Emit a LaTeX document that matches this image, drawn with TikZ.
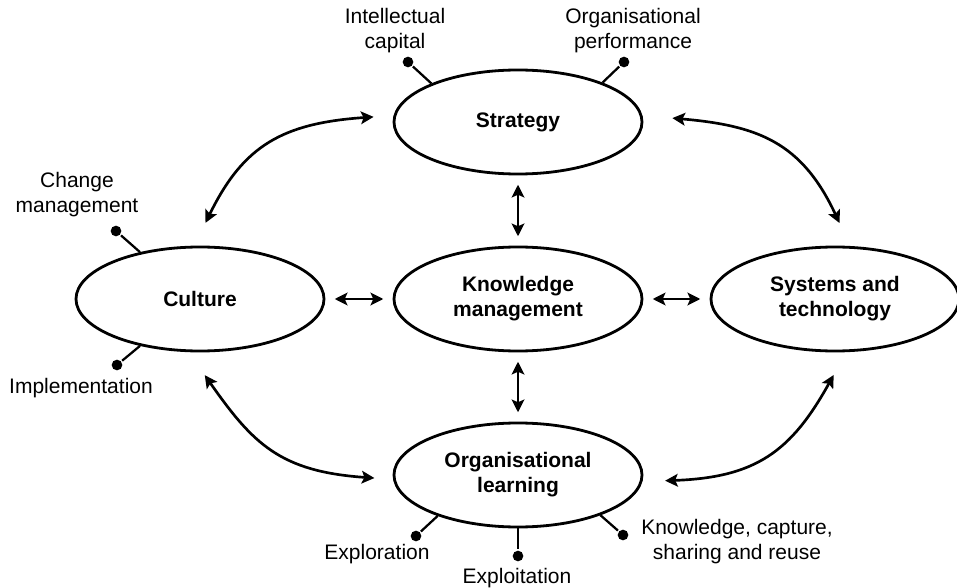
\documentclass[tikz,border=0pt]{standalone}
\usepackage{fontspec}
\setmainfont{Liberation Sans}
\usetikzlibrary{arrows.meta,shapes.geometric,positioning}

\begin{document}
\begin{tikzpicture}[x=0.75pt,y=-0.75pt,<->,>={Stealth[length=9.5pt,width=9.5pt,inset=2pt]},
  line width=2pt,on grid,
  main node/.style={ellipse,draw,line width=2.1pt,minimum width=186pt,minimum height=78pt,
    inner sep=0pt,align=center,font=\fontsize{15.75}{18.75}\selectfont\bfseries},
  pin dot/.style={circle,fill,inner sep=0pt,minimum size=8pt},
  tag/.style={align=center,font=\fontsize{15.75}{18.75}\selectfont},
  stem/.style={-,line width=1.7pt},
  link/.style={shorten <=7pt,shorten >=7pt}]

  \useasboundingbox (0,0) rectangle (957,588);

  \node[main node] (km) at (518,299) {Knowledge\\management};
  \node[main node] (cult) [left=238.5pt of km] {Culture};
  \node[main node] (syst) [right=237.75pt of km] {Systems and\\technology};
  \node[main node] (strat) [above=132.75pt of km] {Strategy};
  \node[main node] (ol) [below=132pt of km] {Organisational\\learning};

  % dots on the stems
  \node[pin dot] (icdot) at (408,62) {};
  \node[pin dot] (opdot) at (624,62) {};
  \node[pin dot] (cmdot) at (116,231) {};
  \node[pin dot] (imdot) at (117,365) {};
  \node[pin dot] (erdot) at (416,536) {};
  \node[pin dot] (eidot) at (518,556) {};
  \node[pin dot] (kcdot) at (623,535) {};

  \node[tag] (ic) at (395,31) {Intellectual\\capital};
  \node[tag] (op) at (633,31) {Organisational\\performance};
  \node[tag] (cm) at (77,195) {Change\\management};
  \node[tag] (im) at (81,388) {Implementation};
  \node[tag] (er) at (377,554) {Exploration};
  \node[tag] (ei) at (517,578) {Exploitation};
  \node[tag] (kc) at (737,542) {Knowledge, capture,\\sharing and reuse};

  \draw[stem] (strat.156) -- (icdot);
  \draw[stem] (strat.25) -- (opdot);
  \draw[stem] (cult.142) -- (cmdot);
  \draw[stem] (cult.218) -- (imdot);
  \draw[stem] (ol.207) -- (erdot);
  \draw[stem] (ol.270) -- (eidot);
  \draw[stem] (ol.334) -- (kcdot);

  % links to the centre
  \draw[link] (strat) -- (km);
  \draw[link] (km) -- (ol);
  \draw[link] (cult) -- (km);
  \draw[link] (km) -- (syst);

  % links round the outside
  \draw[shorten <=19pt,shorten >=15pt,looseness=1.2] (cult.96) to[out=64,in=184] (strat.177);
  \draw[shorten <=22.5pt,shorten >=19pt,looseness=1.2] (strat.3) to[out=-5,in=115] (syst.74);
  \draw[shorten <=21pt,shorten >=14pt,looseness=1.2] (cult.258) to[out=-55,in=176] (ol.182);
  \draw[shorten <=17pt,shorten >=19.5pt,looseness=1.2] (ol.357) to[out=2,in=241] (syst.282);
\end{tikzpicture}
\end{document}
